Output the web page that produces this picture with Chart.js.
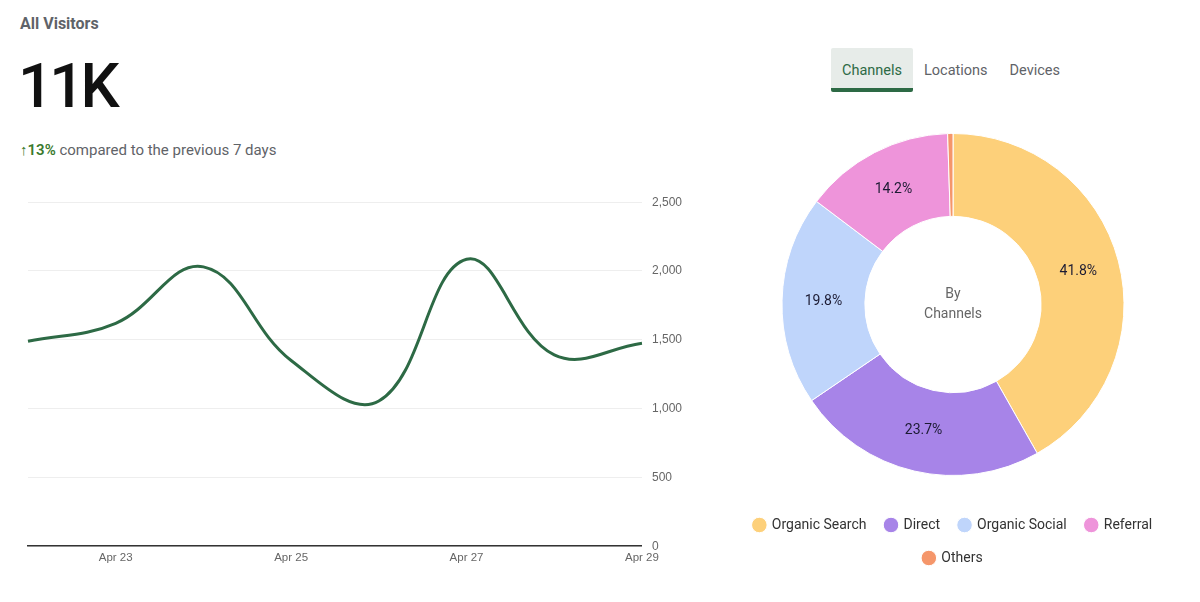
<!DOCTYPE html>
<html lang="en">
<head>
<meta charset="UTF-8">
<title>All Visitors</title>
<script src="https://cdn.jsdelivr.net/npm/chart.js"></script>
<style>
  body { margin: 0; width: 1200px; height: 602px; background: #fff; position: relative; overflow: hidden; font-family: Roboto, "Liberation Sans", sans-serif; }
  .titulo { position: absolute; left: 20px; top: 14px; font-size: 16px; font-weight: bold; color: #5f6368; }
  .total { position: absolute; left: 18px; top: 46px; font-size: 62px; font-weight: 500; color: #111; letter-spacing: -4px; line-height: 80px; }
  .compara { position: absolute; left: 20px; top: 141px; font-size: 15px; color: #5f6368; }
  .compara b { color: #3b7a2e; font-weight: 600; }
  .abas { position: absolute; left: 831px; top: 48px; display: flex; font-size: 14.5px; color: #5f6368; }
  .aba { height: 44px; line-height: 46px; padding: 0 11px; box-sizing: border-box; }
  .aba.ativa { background: #e7ece9; color: #2d6a45; border-bottom: 4px solid #2d6a45; border-radius: 2px; width: 82px; }
  #boxLinha { position: absolute; left: 0; top: 185px; width: 700px; height: 385px; }
  #boxRosca { position: absolute; left: 733px; top: 110px; width: 440px; height: 465px; }
</style>
</head>
<body>
  <div class="titulo">All Visitors</div>
  <div class="total">11K</div>
  <div class="compara"><b>↑13%</b> compared to the previous 7 days</div>
  <div class="abas">
    <div class="aba ativa">Channels</div>
    <div class="aba">Locations</div>
    <div class="aba">Devices</div>
  </div>
  <div id="boxLinha"><canvas id="graficoLinha"></canvas></div>
  <div id="boxRosca"><canvas id="graficoRosca"></canvas></div>

<script>
// dados do grafico de linha
const dias = ['Apr 22', 'Apr 23', 'Apr 24', 'Apr 25', 'Apr 26', 'Apr 27', 'Apr 28', 'Apr 29'];
const visitantes = [1490, 1620, 2030, 1350, 1055, 2085, 1390, 1475];

// dados do grafico de rosca
const canais = ['Organic Search', 'Direct', 'Organic Social', 'Referral', 'Others'];
const porcentagens = [41.8, 23.7, 19.8, 14.2, 0.5];
const coresCanais = ['#fdd07a', '#a784e8', '#bfd5fb', '#ee94da', '#f5966a'];

const corLinha = '#2d6a45';

let graficoLinha = new Chart(document.getElementById('graficoLinha'), {
    type: 'line',
    data: {
        labels: dias,
        datasets: [{
            data: visitantes,
            borderColor: corLinha,
            borderWidth: 3,
            pointRadius: 0,
            tension: 0.4,
            fill: false
        }]
    },
    options: {
        responsive: true,
        maintainAspectRatio: false,
        animation: false,
        layout: { padding: { left: 28, right: 8, top: 14, bottom: 0 } },
        plugins: { legend: { display: false }, tooltip: { enabled: false } },
        scales: {
            x: {
                grid: { display: false, drawTicks: false },
                border: { display: true, color: '#333', width: 1.5 },
                ticks: {
                    autoSkip: false,
                    maxRotation: 0,
                    padding: 5,
                    color: '#666',
                    font: { family: 'Liberation Sans', size: 11.5 },
                    // so mostra os dias impares
                    callback: function (valor, i) { return i % 2 == 1 ? dias[i] : ''; }
                }
            },
            y: {
                position: 'right',
                min: 0,
                max: 2500,
                grid: { color: '#eeeeee', drawTicks: false },
                border: { display: false },
                ticks: {
                    stepSize: 500,
                    padding: 10,
                    color: '#666',
                    font: { family: 'Liberation Sans', size: 12 },
                    callback: function (valor) { return valor.toLocaleString('en-US'); }
                }
            }
        }
    }
});

// escreve as porcentagens nas fatias e o texto do meio
const textoRosca = {
    id: 'textoRosca',
    afterDatasetsDraw(chart) {
        const ctx = chart.ctx;
        const meta = chart.getDatasetMeta(0);
        ctx.save();
        ctx.textAlign = 'center';
        ctx.textBaseline = 'middle';
        ctx.font = '14px Roboto';
        ctx.fillStyle = '#1c1b33';
        meta.data.forEach(function (arco, i) {
            if (porcentagens[i] < 5) return;
            const pos = arco.tooltipPosition();
            ctx.fillText(porcentagens[i].toFixed(1) + '%', pos.x, pos.y);
        });
        const centro = meta.data[0];
        ctx.font = '14px Roboto';
        ctx.fillStyle = '#666';
        ctx.fillText('By', centro.x, centro.y - 10);
        ctx.fillText('Channels', centro.x, centro.y + 10);
        ctx.restore();
    }
};

let graficoRosca = new Chart(document.getElementById('graficoRosca'), {
    type: 'doughnut',
    data: {
        labels: canais,
        datasets: [{
            data: porcentagens,
            backgroundColor: coresCanais,
            borderColor: '#fff',
            borderWidth: 1,
            radius: 171,
            cutout: 100
        }]
    },
    options: {
        responsive: true,
        maintainAspectRatio: false,
        animation: false,
        plugins: {
            tooltip: { enabled: false },
            legend: {
                position: 'bottom',
                labels: {
                    usePointStyle: true,
                    pointStyle: 'circle',
                    boxWidth: 11,
                    boxHeight: 11,
                    padding: 19,
                    color: '#333',
                    font: { family: 'Roboto', size: 14 }
                }
            }
        }
    },
    plugins: [textoRosca]
});
</script>
</body>
</html>
